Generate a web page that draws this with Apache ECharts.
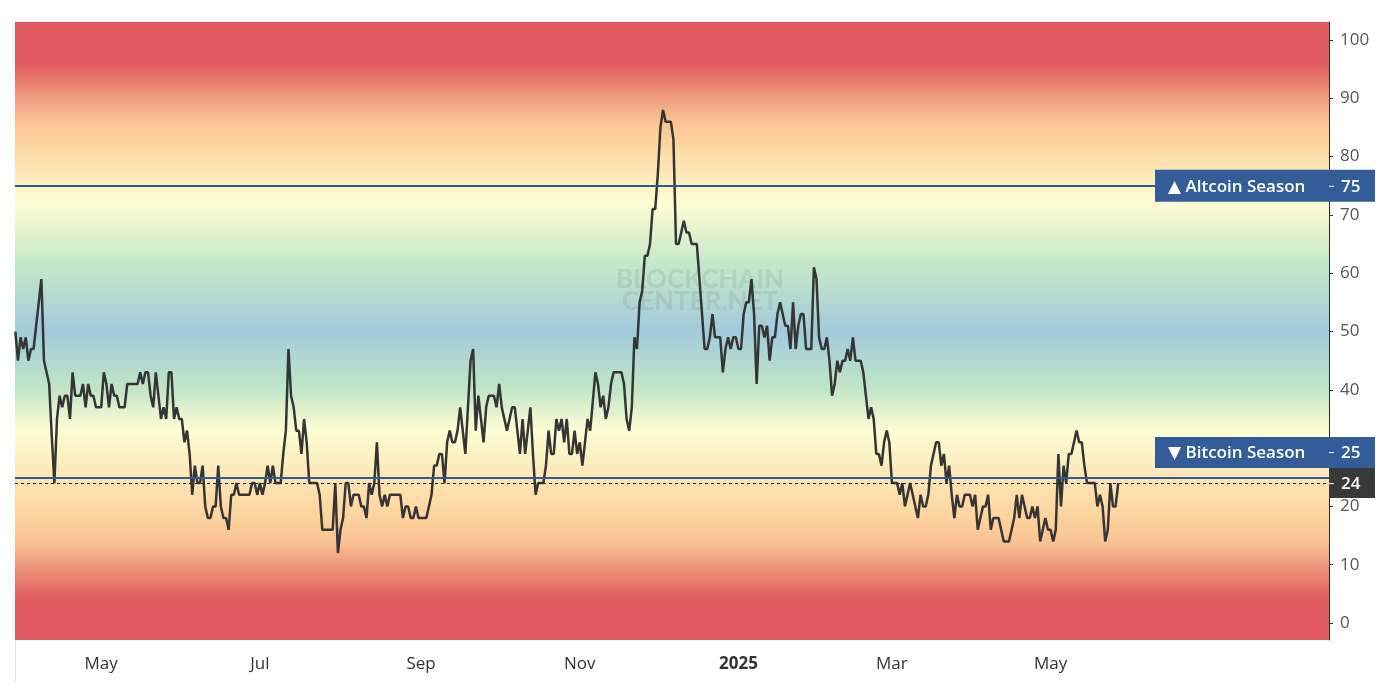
<!DOCTYPE html>
<html>
<head>
<meta charset="utf-8">
<script src="https://cdn.jsdelivr.net/npm/echarts@6/dist/echarts.min.js"></script>
<style>
html,body{margin:0;padding:0;background:#fff;}
#c{width:1398px;height:692px;}
</style>
</head>
<body>
<div id="c"></div>
<script>
// ---------------- DATA ----------------
const startDate = '2024-03-29';           // first daily value
const altcoinIndex = [
  50,45,49,47,49,45,47,47,51,55, 59,45,43,41,32,24,35,39,37,39,
  39,35,43,39,39,39,41,37,41,39, 39,37,37,37,43,41,37,41,39,39,
  37,37,37,41,41,41,41,41,43,41, 43,43,39,37,43,39,35,37,35,43,
  43,35,37,35,35,31,33,29,22,27, 24,24,27,20,18,18,20,20,27,20,
  18,18,16,22,22,24,22,22,22,22, 22,24,24,22,24,22,24,27,24,27,
  24,24,24,29,33,47,39,37,
  33,33,29,35,31,24,24,24,24,22, 16,16,16,16,16,24,12,16,18,24,
  24,20,22,22,22,20,20,18,24,22, 24,31,22,20,22,20,22,22,22,22,
  22,18,20,20,18,18,20,18,18,18,18, 20,22,27,27,29,29,24,31,33,31,
  31,33,37,33,29,37,45,47,33,39, 35,31,37,39,39,39,37,41,37,35,
  33,35,37,37,33,29,35,29,33,37, 29,22,24,24,24,27,33,29,29,35,
  33,35,
  31,35,29,29,33,29,31,27,31,35, 33,38,43,41,37,39,35,37,41,43,
  43,43,43,41,35,33,37,49,47,55, 57,63,63,65,71,71,77,85,88,86,
  86,86,83,65,65,67,69,67,67,65, 65,65,59,53,47,47,49,53,49,49,
  49,43,47,49,47,49,49,47,47,53, 55,55,59,53,41,51,51,49,51,45,
  49,49,53,55,53,51,51,47,55,47, 51,53,53,47,47,47,61,59,49,47,
  47,49,45,39,41,45,
  43,45,45,47,45,49,45,45,45,43, 39,35,37,35,29,29,27,31,33,31,
  24,24,24,22,24,20,22,24,22,20, 18,22,20,20,22,27,29,31,31,27,
  29,24,27,22,18,22,20,20,22,22, 22,20,22,16,18,20,20,22,16,18,
  18,18,16,14,14,14,16,18,22,18, 22,20,18,18,20,18,20,14,16,18,
  16,16,14,16,29,20,27,24,29,29, 31,33,31,31,27,24,24,24,24,20,
  22,20,14,16,24,20,20,24
];
const tickDates  = ['2024-05-01','2024-07-01','2024-09-01','2024-11-01','2025-01-01','2025-03-01','2025-05-01'];
const tickLabels = ['May','Jul','Sep','Nov','2025','Mar','May'];
const yTicks = [0,10,20,30,40,50,60,70,80,90,100];
const altcoinSeason = 75;
const bitcoinSeason = 25;
const altcoinLabel = '\u25B2 Altcoin Season';
const bitcoinLabel = '\u25BC Bitcoin Season';
const watermark = ['BLOCKCHAIN', 'CENTER.NET'];

// ---------------- CHART ----------------
const FONT = '"Open Sans", "DejaVu Sans", sans-serif';
const DAY = 86400000;
const t0 = Date.parse(startDate + 'T00:00:00Z');
const seriesData = altcoinIndex.map((v, i) => [t0 + i * DAY, v]);
const lastValue = altcoinIndex[altcoinIndex.length - 1];
const tickTimes = tickDates.map(d => Date.parse(d + 'T00:00:00Z'));
const Y_MIN = -2.91, Y_MAX = 103.09;
const X_MIN = Date.UTC(2024, 2, 28, 20, 40);
const X_MAX = Date.UTC(2025, 7, 16, 1, 0);

const bgDef = [
  [103.09,'#e05a5f'],[96,'#e05a5f'],[93,'#e77a6c'],[90,'#f09e80'],[86,'#fbc393'],
  [82,'#fdd6a0'],[77,'#fde9b8'],[72,'#fefdd4'],[67,'#e2f3cf'],[62,'#c6e9c7'],
  [50,'#a2cadc'],[40,'#c1e6c6'],[36,'#e6f4cf'],[33,'#fefdd4'],[26,'#fde9b8'],
  [19,'#fdd6a0'],[14,'#fbc393'],[10.5,'#f09e80'],[7,'#e77a6c'],[4,'#e05a5f'],[-2.91,'#e05a5f']
];
const bgStops = bgDef.map(([v, c]) => ({ offset: Math.min(1, Math.max(0, (Y_MAX - v) / (Y_MAX - Y_MIN))), color: c }));

const chart = echarts.init(document.getElementById('c'), null, { renderer: 'canvas' });

chart.setOption({
  animation: false,
  backgroundColor: '#ffffff',
  grid: {
    left: 15, right: 69, top: 22, bottom: 52,
    show: true, borderWidth: 0,
    backgroundColor: new echarts.graphic.LinearGradient(0, 0, 0, 1, bgStops)
  },
  xAxis: {
    type: 'value', min: X_MIN, max: X_MAX, scale: true,
    axisLine: { show: false }, axisTick: { show: false }, splitLine: { show: false },
    axisLabel: {
      customValues: tickTimes,
      color: '#333', fontSize: 17, fontFamily: FONT, margin: 16,
      formatter: function (val) {
        const idx = tickTimes.findIndex(t => Math.abs(t - val) < 43200000);
        if (idx < 0) return '';
        const s = tickLabels[idx];
        return /^\d{4}$/.test(s) ? '{yr|' + s + '}' : s;
      },
      rich: { yr: { fontWeight: 'bold', color: '#333', fontSize: 17, fontFamily: FONT } }
    }
  },
  yAxis: {
    type: 'value', position: 'right', min: Y_MIN, max: Y_MAX,
    splitLine: { show: false },
    axisLine: { show: true, lineStyle: { color: '#2a2a2a', width: 1 } },
    axisTick: { show: true, length: 4, customValues: yTicks, lineStyle: { color: '#333' } },
    axisLabel: { customValues: yTicks, color: '#555', fontSize: 17, fontFamily: FONT, margin: 11 }
  },
  series: [
    {
      type: 'line', data: [], z: 1, silent: true,
      markLine: {
        silent: true, symbol: 'none', animation: false, label: { show: false },
        data: [
          { yAxis: altcoinSeason, lineStyle: { color: '#2f5a98', width: 2, type: 'solid' } },
          { yAxis: bitcoinSeason, lineStyle: { color: '#2f5a98', width: 2, type: 'solid' } },
          { yAxis: lastValue, lineStyle: { color: '#222', width: 1, type: [3, 3] } }
        ]
      }
    },
    {
      type: 'line', data: seriesData, showSymbol: false, z: 3,
      lineStyle: { color: '#353535', width: 2.5 }
    }
  ]
});

const yAlt = chart.convertToPixel({ yAxisIndex: 0 }, altcoinSeason);
const yLast = chart.convertToPixel({ yAxisIndex: 0 }, lastValue);
const axisX = chart.getWidth() - 69;
const BOX_L = 1155, BOX_R = 1375;
const blue = '#335c99';
const txt = (x, y, s, weight) => ({ type: 'text', x: x, y: y, z: 20,
  style: { text: s, fill: '#fff', font: (weight || 'normal') + ' 17px ' + FONT, verticalAlign: 'middle', align: 'left' } });
const yBtc = yLast - 31;

chart.setOption({
  graphic: [
    { type: 'line', z: 5, shape: { x1: 15.5, y1: chart.getHeight() - 52, x2: 15.5, y2: chart.getHeight() - 10 },
      style: { stroke: '#e3e3e3', lineWidth: 1 } },
    { type: 'text', x: 700, y: 291, z: 1, silent: true,
      style: { text: watermark.join('\n'), fill: 'rgba(90,90,90,0.12)', font: 'bold 26px Lato, ' + FONT,
        align: 'center', verticalAlign: 'middle', lineHeight: 22 } },
    { type: 'rect', z: 19, shape: { x: BOX_L, y: yAlt - 16, width: BOX_R - BOX_L, height: 32 }, style: { fill: blue } },
    txt(1168, yAlt + 1, altcoinLabel, '600'),
    txt(axisX + 12, yAlt + 1, String(altcoinSeason), '600'),
    { type: 'line', z: 20, shape: { x1: axisX, y1: yAlt + 0.5, x2: axisX + 5, y2: yAlt + 0.5 }, style: { stroke: '#fff', lineWidth: 1 } },
    { type: 'rect', z: 19, shape: { x: BOX_L, y: yBtc - 15, width: BOX_R - BOX_L, height: 31 }, style: { fill: blue } },
    txt(1168, yBtc + 1, bitcoinLabel, '600'),
    txt(axisX + 12, yBtc + 1, String(bitcoinSeason), '600'),
    { type: 'line', z: 20, shape: { x1: axisX, y1: yBtc + 0.5, x2: axisX + 5, y2: yBtc + 0.5 }, style: { stroke: '#fff', lineWidth: 1 } },
    { type: 'rect', z: 19, shape: { x: axisX, y: yLast - 15, width: BOX_R - axisX, height: 30 }, style: { fill: '#383838' } },
    txt(axisX + 12, yLast + 1, String(lastValue), '600'),
    { type: 'line', z: 20, shape: { x1: axisX, y1: yLast + 0.5, x2: axisX + 5, y2: yLast + 0.5 }, style: { stroke: '#fff', lineWidth: 1 } }
  ]
});
</script>
</body>
</html>
